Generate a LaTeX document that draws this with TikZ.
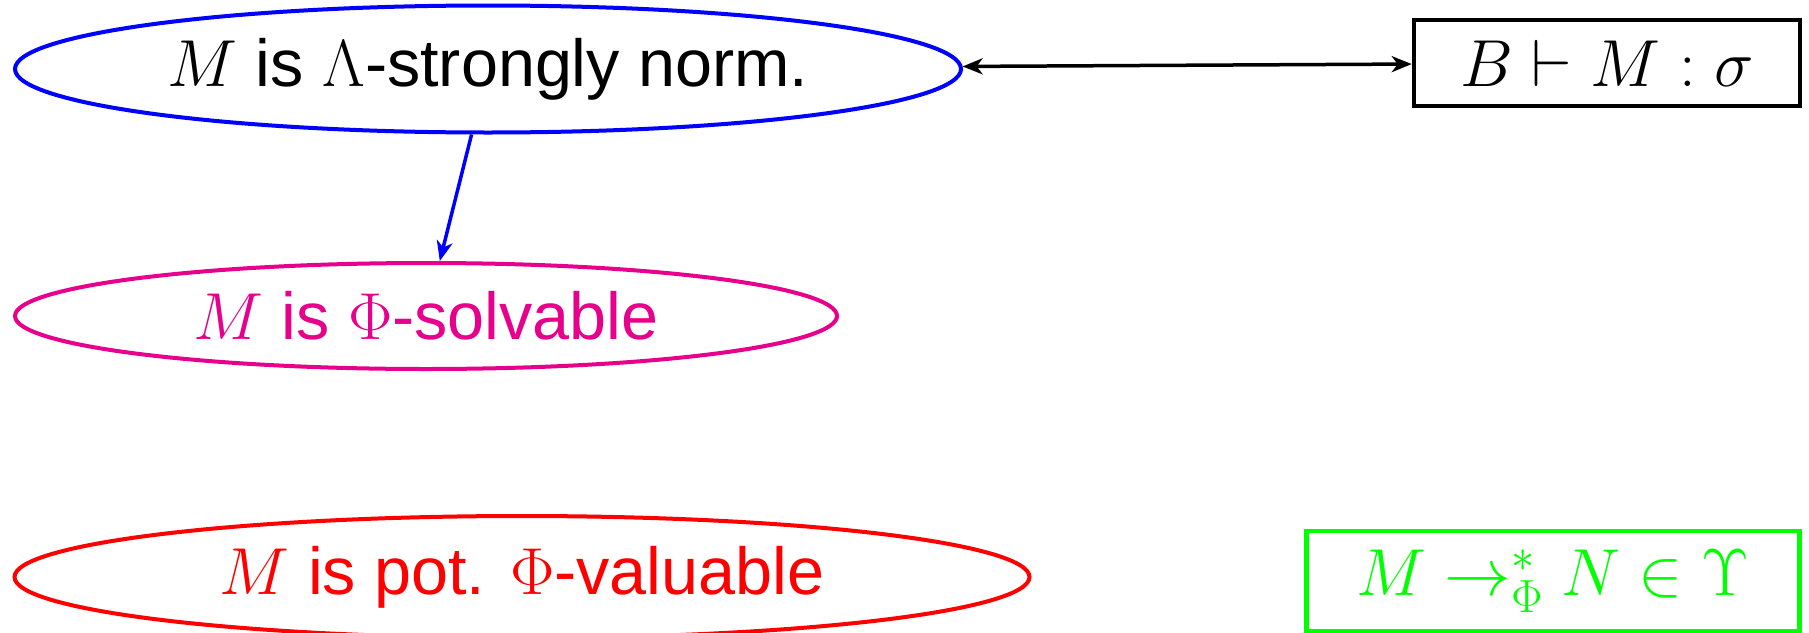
\RequirePackage{fix-cm}
\documentclass[tikz,border=0pt]{standalone}
\usepackage{fontspec}
\setmainfont{Liberation Sans}
\DeclareMathSizes{66.5}{66.5}{46.5}{33.25}
\usetikzlibrary{shapes.geometric,arrows.meta}
\definecolor{cblue}{RGB}{0,0,255}
\definecolor{cmag}{RGB}{230,0,140}
\definecolor{cred}{RGB}{255,0,0}
\definecolor{cgreen}{RGB}{0,255,0}
\begin{document}
\begin{tikzpicture}[x=1pt,y=1pt,
  lbl/.style={font=\fontsize{66.5}{80}\selectfont, inner sep=0pt, line width=4pt},
  ell/.style={lbl, ellipse, draw},
  boxn/.style={lbl, rectangle, draw, line width=4.5pt},
  tip/.style={-{Stealth[length=20pt,width=16pt,inset=6pt]}, line width=3.5pt},
  dtip/.style={{Stealth[length=20pt,width=16pt,inset=6pt]}-{Stealth[length=20pt,width=16pt,inset=6pt]}, line width=3.5pt}]
\useasboundingbox (0,0) rectangle (1809,-632);
\node[ell, draw=cblue, minimum width=946, minimum height=127] (top) at (488,-69) {$M$ is $\Lambda$-strongly norm.};
\node[boxn, draw=black, minimum width=386, minimum height=86] (typ) at (1607,-63) {$B\vdash M:\sigma$};
\node[ell, draw=cmag, text=cmag, minimum width=822, minimum height=106] (mid) at (426,-316) {$M$ is $\Phi$-solvable};
\node[ell, draw=cred, text=cred, minimum width=1015, minimum height=122] (bot) at (522,-577) {$M$ is pot. $\Phi$-valuable};
\node[boxn, draw=cgreen, text=cgreen, minimum width=493, minimum height=100] (red) at (1553,-581) {$M\to^{*}_{\Phi}N\in\Upsilon$};
\draw[dtip, black] (top) -- (typ);
\draw[tip, cblue] (top) -- (mid);
\end{tikzpicture}
\end{document}
